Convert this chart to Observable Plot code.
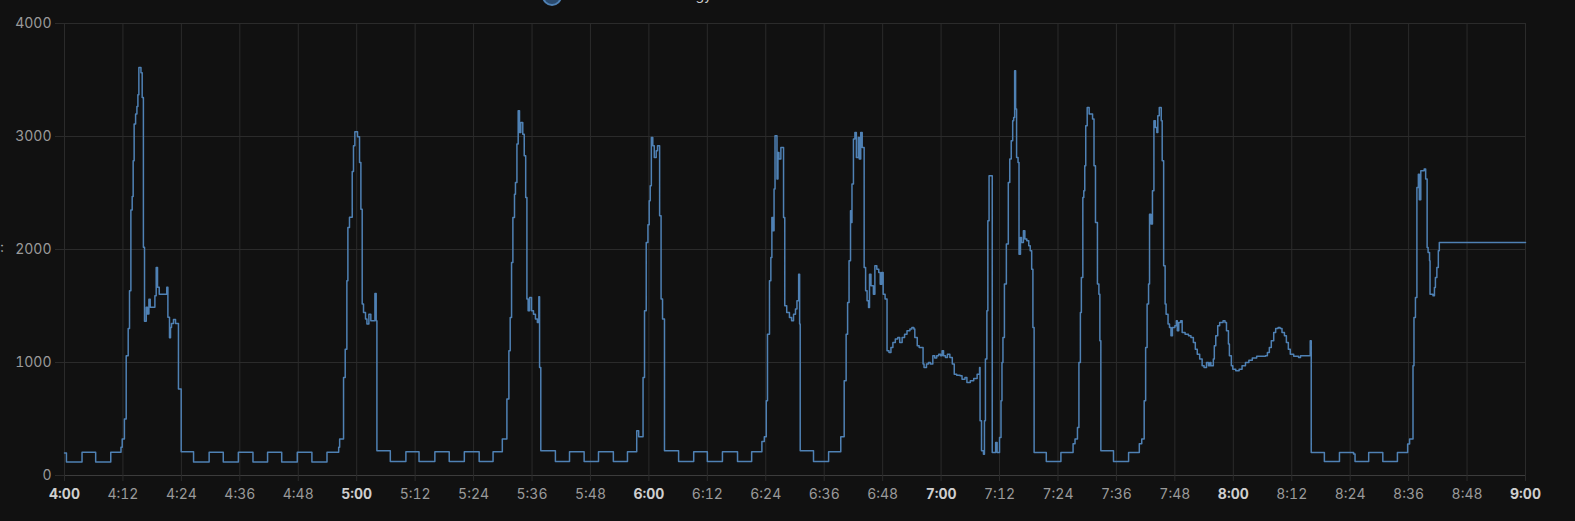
<!DOCTYPE html>
<html>
<head>
<meta charset="utf-8">
<script src="https://cdn.jsdelivr.net/npm/d3@7"></script>
<script src="https://cdn.jsdelivr.net/npm/@observablehq/plot@0.6"></script>
<style>
  html, body { margin: 0; padding: 0; background: #111111; }
  #wrap { position: relative; width: 1575px; height: 521px; overflow: hidden; background: #111111; font-family: Inter, Roboto, sans-serif; }
  #legend-dot { position: absolute; left: 542px; top: -14px; width: 16px; height: 16px; border-radius: 50%; background: #2a4a6e; border: 2px solid #4f81b4; }
  #legend-text { position: absolute; right: 863px; top: -14px; font-size: 14px; line-height: 17px; color: #cccccc; white-space: nowrap; }
  #ylab { position: absolute; left: 0px; top: 238px; font-size: 14px; color: #aaaaaa; }
  #chart { position: absolute; left: 0; top: 0; }
</style>
</head>
<body>
<div id="wrap">
  <div id="chart"></div>
  <div id="legend-dot"></div>
  <div id="legend-text">Total Electrical Energy</div>
  <div id="ylab">:</div>
</div>
<script>
// minutes after 4:00
const minutes = [
  0, 0.4, 3.6, 6.4, 9.5, 11.6, 11.85, 12.3, 12.67, 13.08, 13.35, 13.63, 13.9, 14.1, 14.3, 14.6, 14.87, 15.07, 15.27, 15.7, 15.95,
  16.2, 16.43, 16.78, 17.05, 17.33, 17.6, 18.56, 18.83, 19.1, 19.45, 21.0, 21.23, 21.56, 21.77, 21.97, 22.38, 22.8, 23.4, 23.6, 23.96,
  26.5, 29.7, 32.6, 35.7, 38.7, 41.7, 44.6, 47.8, 50.8, 53.9, 56.3,
  56.5, 57.3, 57.64, 57.98, 58.19, 58.52, 59.08, 59.34, 59.62, 60.17, 60.58, 60.86, 61.13, 61.4, 61.81, 62.1, 62.5, 62.9, 63.74, 64.0, 64.15,
  66.9, 70.1, 72.8, 76.05, 79.0, 82.1, 85.15, 88.0,
  89.9, 90.84, 91.25, 91.52, 91.8, 92.07, 92.4, 92.6, 92.9, 93.16, 93.43, 93.7, 94.1, 94.4, 94.7, 94.95, 95.2, 95.5, 95.9, 96.3, 96.7, 97.1, 97.4, 97.55, 97.8,
  100.8, 103.7, 106.7, 109.65, 112.7, 115.6, 117.5, 117.9,
  118.8, 119.1, 119.45, 119.8, 120.06, 120.27, 120.5, 120.8, 121.1, 121.5, 121.77, 122.2, 122.5, 122.8, 123.2,
  126.1, 129.2, 132.0, 135.1, 138.2, 141.1, 143.2, 143.7,
  144.1, 144.35, 144.76, 145.04, 145.25, 145.5, 145.7, 145.9, 146.3, 146.5, 146.7, 147.1, 147.65, 147.9, 148.3, 148.86, 149.3, 149.7, 150.1, 150.4, 150.75, 150.95, 151.07,
  153.8, 156.9, 159.4,
  160.1, 160.5, 160.8, 161.1, 161.4, 161.55, 161.7, 162.0, 162.3, 162.6, 163.0, 163.2, 163.5, 163.8, 164.2, 164.5, 164.8, 165.1, 165.3, 165.6, 166.1, 166.4, 166.8, 167.2, 167.5, 167.8, 168.1, 168.5,
  168.9, 169.3, 169.7, 170.1, 170.6, 171.1, 171.5, 172.0, 172.5, 173.0, 173.6, 174.0, 174.4, 174.6, 175.1, 175.5, 176.3, 176.5, 177.0, 177.4, 177.8, 178.3, 178.7, 179.1, 179.5, 179.9,
  180.2, 180.5, 180.9, 181.3, 181.8, 182.3, 182.7, 183.2, 183.9, 184.3, 184.9, 185.3, 186.0, 186.7, 187.4, 187.9,
  188.0, 188.3, 188.7, 188.9, 189.1, 189.4, 189.6, 189.85, 190.5, 191.2, 191.5,
  192.0, 192.3, 192.5, 192.7, 193.0, 193.4, 193.8, 194.1, 194.4, 194.7, 194.9, 195.1, 195.3, 195.5, 195.8, 196.0, 196.3, 196.5, 196.9, 197.2, 197.6, 198.0, 198.3, 198.6, 198.85, 199.1,
  201.6, 204.6, 207.1,
  207.5, 208.0, 208.3, 208.6, 208.8, 209.1, 209.3, 209.5, 209.7, 210.0, 210.4, 211.1, 211.4, 211.7, 212.1, 212.4, 212.6, 212.8,
  215.4, 218.5, 220.7,
  221.2, 221.7, 222.0, 222.3, 222.6, 222.8, 223.1, 223.4, 223.7, 224.0, 224.3, 224.5, 224.8, 225.2, 225.4, 225.7, 226.0, 226.2, 226.6, 226.9, 227.2, 227.5,
  228.0, 228.3, 228.5, 228.8, 229.2, 229.5, 230.1, 230.8, 231.3, 231.8, 232.2, 232.6, 233.1, 233.6, 234.0, 234.5, 234.9, 235.2, 235.4, 235.9,
  236.1, 236.4, 236.8, 237.2, 237.9, 238.3, 238.6, 239.0, 239.2, 239.6, 239.9, 240.5, 241.2, 241.8, 242.5, 243.2, 243.9, 244.8, 246.6,
  247.0, 247.4, 247.8, 248.3, 248.7, 249.2, 249.6, 250.0, 250.5, 250.9, 251.3, 251.7, 252.4, 253.4, 253.8, 255.8, 256.0,
  258.7, 261.8, 264.7, 265.0, 267.8, 270.7, 273.7, 275.8,
  276.2, 276.9, 277.1, 277.4, 277.7, 278.0, 278.2, 278.5, 278.9, 279.2, 279.5, 279.8, 280.0, 280.3, 280.4, 281.0, 281.3, 281.5, 281.8, 282.1, 282.3, 300
];

// watts at each of those moments (held until the next one)
const watts = [
  200, 120, 205, 120, 205, 250, 322, 500, 1060, 1300, 1635, 2350, 2470, 2785, 3110, 3200, 3265, 3370, 3610, 3565, 3345,
  2020, 1365, 1490, 1430, 1560, 1490, 1590, 1840, 1665, 1605, 1665, 1400, 1220, 1310, 1345, 1380, 1345, 765, 765, 210,
  120, 205, 120, 205, 120, 205, 120, 205, 120, 205, 250,
  322, 867, 1118, 1723, 2195, 2285, 2690, 2918, 3042, 2998, 2770, 2357, 1517, 1443, 1384, 1340, 1428, 1369, 1611, 1369, 219,
  124, 210, 124, 210, 124, 210, 124, 210,
  322, 676, 1104, 1398, 1885, 2284, 2490, 2594, 2933, 3228, 3036, 3124, 3021, 2829, 2460, 1561, 1458, 1576, 1458, 1428, 1384, 1354, 1581, 956, 219,
  124, 210, 124, 210, 124, 210, 395, 344,
  867, 1458, 2062, 2220, 2431, 2564, 2991, 2918, 2815, 2874, 2918, 2298, 1561, 1384, 219,
  124, 210, 124, 210, 124, 210, 300, 344,
  661, 1251, 1723, 1929, 2284, 2166, 2535, 3006, 2623, 2859, 2800, 2903, 2284, 1502, 1443, 1399, 1369, 1428, 1473, 1546, 1782, 1340, 219,
  124, 210, 344,
  838, 1251, 1531, 1900, 2343, 2240, 2579, 2977, 3036, 2815, 2991, 2800, 3036, 2903, 1841, 1634, 1546, 1487, 1782, 1679, 1605, 1856, 1826, 1797, 1693, 1797, 1605, 1561,
  1104, 1089, 1133, 1177, 1207, 1222, 1177, 1222, 1251, 1281, 1296, 1310, 1296, 1222, 1148, 1133, 986, 956, 986, 1000, 986, 1059, 1040, 1059, 1074, 1059,
  1104, 1059, 1045, 1074, 1045, 986, 897, 888, 882, 852, 867, 823, 838, 858, 897, 956,
  484, 219, 189, 484, 1030, 1458, 2254, 2652, 204, 292, 204,
  336, 661, 1000, 1221, 1694, 2048, 2593, 2800, 2962, 3139, 3168, 3582, 3243, 2815, 2771, 1959, 2107, 2063, 2166, 2092, 2077, 2033, 1989, 1826, 1310, 204,
  124, 204, 280,
  322, 425, 1000, 1443, 1752, 2460, 2520, 2741, 3095, 3257, 3199, 3154, 2741, 2239, 1694, 1605, 1192, 219,
  124, 204, 280,
  322, 661, 1133, 1517, 1694, 2313, 2225, 2520, 3139, 3080, 3036, 3183, 3257, 3139, 2785, 1856, 1517, 1428, 1340, 1310, 1236, 1310,
  1325, 1369, 1281, 1354, 1369, 1266, 1251, 1236, 1222, 1177, 1118, 1074, 1030, 971, 956, 1000, 971, 1000, 971, 1030,
  1148, 1236, 1325, 1354, 1369, 1354, 1281, 1163, 1059, 971, 941, 927, 941, 971, 1000, 1021, 1040, 1055, 1059,
  1089, 1133, 1192, 1266, 1300, 1310, 1300, 1266, 1236, 1177, 1118, 1074, 1055, 1045, 1060, 1192, 204,
  124, 204, 190, 124, 204, 124, 204, 278,
  322, 971, 1398, 1575, 2549, 2667, 2440, 2697, 2697, 2712, 2623, 2018, 1974, 1900, 1605, 1590, 1664, 1752, 1841, 1989, 2062, 2062
];

const xTickLabels = ["4:00","4:12","4:24","4:36","4:48","5:00","5:12","5:24","5:36","5:48","6:00","6:12","6:24","6:36","6:48",
  "7:00","7:12","7:24","7:36","7:48","8:00","8:12","8:24","8:36","8:48","9:00"];
const yTicks = [0, 1000, 2000, 3000, 4000];

const toDate = (label) => { const [h, m] = label.split(":").map(Number); return new Date(Date.UTC(2024, 0, 1, h, m)); };
const t0 = toDate("4:00");
const data = minutes.map((m, i) => ({ time: new Date(t0.getTime() + m * 60000), watts: watts[i] }));
const xTicks = xTickLabels.map(toDate);
const hourTicks = xTicks.filter(d => d.getUTCMinutes() === 0);
const minorTicks = xTicks.filter(d => d.getUTCMinutes() !== 0);
const fmt = d => `${d.getUTCHours()}:${String(d.getUTCMinutes()).padStart(2, "0")}`;

const chart = Plot.plot({
  width: 1575,
  height: 521,
  marginLeft: 64,
  marginRight: 50,
  marginTop: 23,
  marginBottom: 46,
  style: { background: "#111111", color: "#9a9a9a", fontFamily: "Inter, Roboto, sans-serif", fontSize: "14px" },
  x: { type: "utc", domain: [xTicks[0], xTicks[xTicks.length - 1]] },
  y: { domain: [0, 4000] },
  marks: [
    Plot.gridX(xTicks, { stroke: "#2b2b2b", strokeOpacity: 1 }),
    Plot.gridY(yTicks, { stroke: "#2b2b2b", strokeOpacity: 1 }),
    Plot.ruleY([0], { stroke: "#3c3c3c" }),
    Plot.axisY(yTicks, { tickSize: 9, tickPadding: 4, stroke: "#2b2b2b", fill: "#9a9a9a", tickFormat: d => String(d), label: null }),
    Plot.axisX(minorTicks, { tickSize: 6, tickPadding: 8, stroke: "#2b2b2b", fill: "#9a9a9a", tickFormat: fmt, label: null }),
    Plot.axisX(hourTicks, { tickSize: 6, tickPadding: 8, stroke: "#2b2b2b", fill: "#cfcfcf", fontWeight: "bold", tickFormat: fmt, label: null }),
    Plot.lineY(data, { x: "time", y: "watts", curve: "step-after", stroke: "#4f81b4", strokeWidth: 1.5 })
  ]
});
document.getElementById("chart").appendChild(chart);
</script>
</body>
</html>
